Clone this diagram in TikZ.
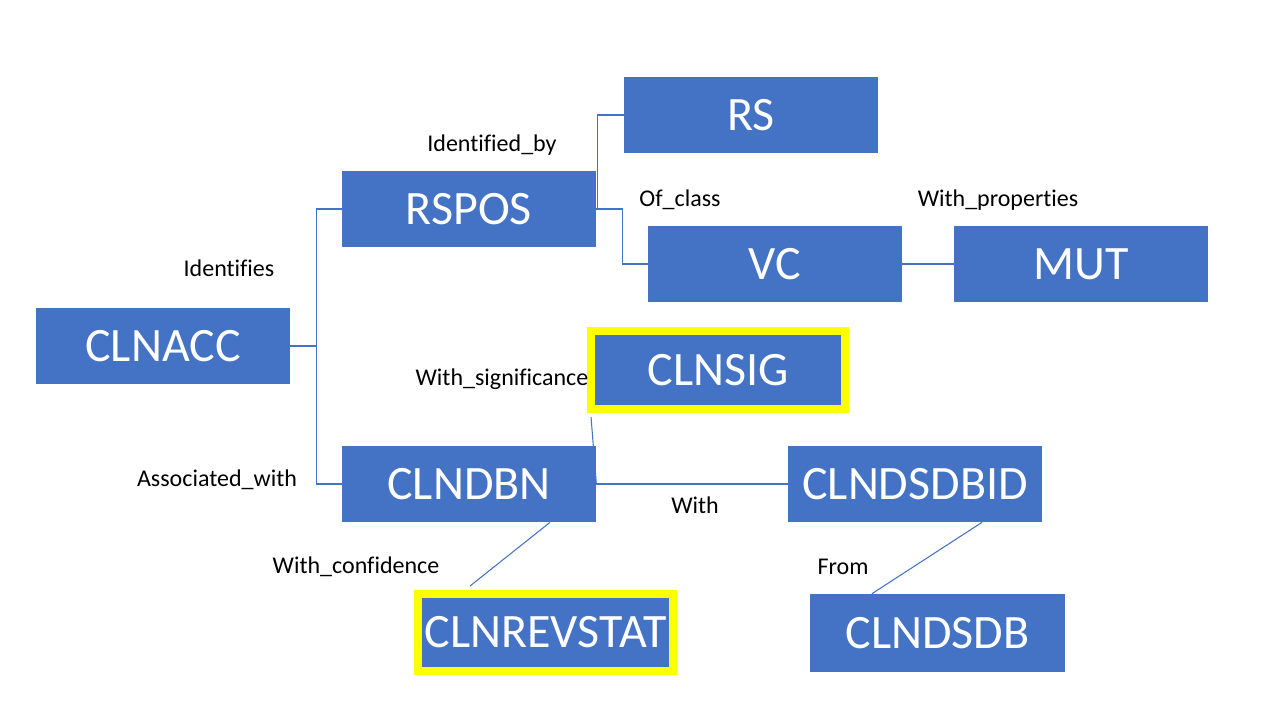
\documentclass[tikz,border=0pt]{standalone}
\usepackage{fontspec}
\setmainfont[Ligatures=NoCommon]{Carlito}
\definecolor{boxblue}{HTML}{4472C4}
\definecolor{hiyellow}{HTML}{FFFF00}
\begin{document}
\begin{tikzpicture}[x=0.02cm,y=-0.02cm,
  box/.style={fill=boxblue, draw=none, text=white, inner sep=0pt,
    minimum width=5.08cm, minimum height=1.52cm, font=\fontsize{27.3}{30}\selectfont},
  hibox/.style={box, draw=hiyellow, line width=4.55pt, minimum width=5.08cm, minimum height=1.56cm},
  lbl/.style={text=black, inner sep=0pt, font=\fontsize{13.66}{16}\selectfont},
  conn/.style={draw=boxblue, line width=0.6pt}]
\useasboundingbox (0,0) rectangle (1280,720);
% boxes
\node[box] (rs) at (751,115) {RS};
\node[box] (rspos) at (469,209) {RSPOS};
\node[box] (vc) at (775,264) {VC};
\node[box] (mut) at (1081,264) {MUT};
\node[box] (clnacc) at (163,346) {CLNACC};
\node[hibox] (clnsig) at (718,370) {CLNSIG};
\node[box] (clndbn) at (469,484) {CLNDBN};
\node[box] (clndsdbid) at (915,484) {CLNDSDBID};
\node[hibox, minimum width=5.1cm, minimum height=1.54cm] (clnrevstat) at (545.5,632.5) {CLNREVSTAT};
\node[box, minimum width=5.1cm, minimum height=1.56cm] (clndsdb) at (937.5,633) {CLNDSDB};
% connectors
\draw[conn] (clnacc.east) -- ++(26,0) coordinate (j1) |- (rspos.west);
\draw[conn] (j1) |- (clndbn.west);
\draw[conn] (rspos.east) -- ++(1,0) |- (rs.west);
\draw[conn] (rspos.east) -- ++(26,0) |- (vc.west);
\draw[conn] (vc.east) -- (mut.west);
\draw[conn] ([shift={(4,4)}]clnsig.south west) -- (clndbn.east);
\draw[conn] (clndbn.east) -- (clndsdbid.west);
\draw[conn] ([shift={(81,0)}]clndbn.south) -- ([shift={(-75.5,-4)}]clnrevstat.north);
\draw[conn] ([shift={(67,0)}]clndsdbid.south) -- ([shift={(-65.5,0)}]clndsdb.north);
% labels
\node[lbl] (l1) at (492,145) {Identified\_by};
\node[lbl] (l2) at (680,200) {Of\_class};
\node[lbl] (l3) at (998,200) {With\_properties};
\node[lbl] (l4) at (229,268) {Identifies};
\node[lbl] (l5) at (502,379) {With\_significance};
\node[lbl] (l6) at (217,480) {Associated\_with};
\node[lbl] (l7) at (695,505) {With};
\node[lbl] (l8) at (356,567) {With\_confidence};
\node[lbl] (l9) at (843,567) {From};
\end{tikzpicture}
\end{document}
